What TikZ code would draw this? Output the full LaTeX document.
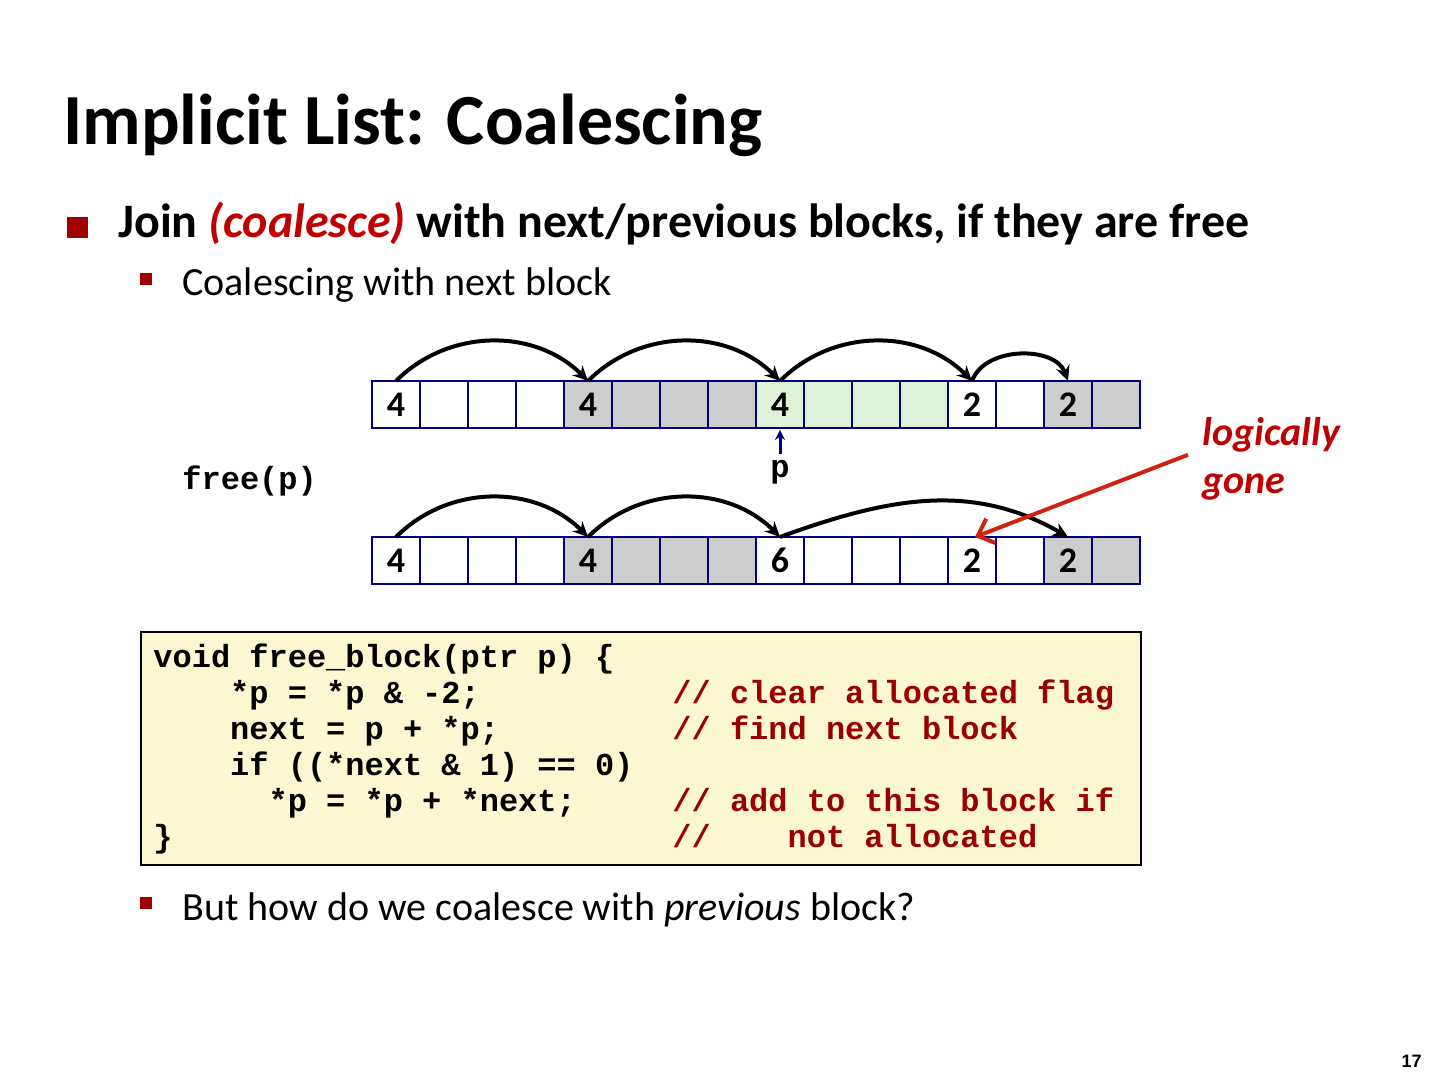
\documentclass[tikz,border=0pt]{standalone}
\usepackage{fontspec}
\setmainfont{Carlito}
\setmonofont{Liberation Mono}
\newfontfamily\pagefont{Liberation Sans}
\usepackage{tikz}
\usetikzlibrary{arrows.meta,positioning}

\definecolor{bulletred}{RGB}{160,0,0}
\definecolor{keyred}{RGB}{192,0,0}
\definecolor{cmtred}{RGB}{153,0,0}
\definecolor{cellnavy}{RGB}{0,0,128}
\definecolor{allocgray}{RGB}{205,205,205}
\definecolor{freegreen}{RGB}{221,242,217}
\definecolor{codeyellow}{RGB}{251,247,208}
\definecolor{goneorange}{RGB}{205,35,15}

\begin{document}
\begin{tikzpicture}[
    x=0.5pt, y=0.5pt, % one unit = one pixel of the slide
    cell/.style={
        draw=cellnavy, line width=0.6pt,
        minimum width=24pt, minimum height=23.5pt,
        inner sep=0pt, outer sep=0pt,
        font=\fontsize{18}{20}\selectfont\bfseries
    },
    hop/.style={-{Stealth[length=7.5pt,width=7pt]}, line width=2pt},
    txt/.style={anchor=base west, inner sep=0pt},
    bullet/.style={fill=bulletred, inner sep=0pt}
]
\useasboundingbox (0,0) rectangle (1440,1080);

% --- titulo e topicos ---
\node[txt, font=\fontsize{36}{40}\selectfont\bfseries] (title) at (63,935) {Implicit List: Coalescing};
\node[bullet, minimum size=10.5pt] (dot1) at (77.5,852) {};
\node[txt, font=\fontsize{24}{28}\selectfont\bfseries] (join) at (118,842)
    {Join \textcolor{keyred}{\itshape (coalesce)} with next/previous blocks, if they are free};
\node[bullet, minimum size=6pt] (dot2) at (146,801) {};
\node[txt, font=\fontsize{20}{24}\selectfont] (next) at (182,784) {Coalescing with next block};

% --- heap antes de free(p) ---
\foreach \f/\t [count=\i from 0] in {white/4,white/,white/,white/,allocgray/4,allocgray/,allocgray/,allocgray/,
    freegreen/4,freegreen/,freegreen/,freegreen/,white/2,white/,allocgray/2,allocgray/}
    \node[cell, fill=\f] (pre\i) at ({396+48*\i},675.5) {\t};

\draw[hop] (pre0.north) to[bend left=45] (pre4.north);
\draw[hop] (pre4.north) to[bend left=45] (pre8.north);
\draw[hop] (pre8.north) to[bend left=45] (pre12.north);
\draw[hop] (pre12.north) to[bend left=70] (pre14.north);

% ponteiro p
\node[anchor=base, font=\ttfamily\bfseries\fontsize{16}{18}\selectfont] (p) at (780,602) {p};
\draw[-{Stealth[length=5pt,width=5pt]}, cellnavy, line width=1.5pt, shorten >=1pt] (p.north) -- (pre8.south);

\node[txt, font=\ttfamily\bfseries\fontsize{16}{18}\selectfont] (free) at (182,590) {free(p)};

% --- heap depois de free(p) ---
\foreach \f/\t [count=\i from 0] in {white/4,white/,white/,white/,allocgray/4,allocgray/,allocgray/,allocgray/,
    white/6,white/,white/,white/,white/2,white/,allocgray/2,allocgray/}
    \node[cell, fill=\f] (post\i) at ({396+48*\i},519.5) {\t};

\draw[hop] (post0.north) to[bend left=45] (post4.north);
\draw[hop] (post4.north) to[bend left=45] (post8.north);
\draw[hop] (post8.north) to[out=20,in=150] (post14.north);

% rotulo "logically gone"
\node[anchor=north west, inner sep=0pt, align=left, text=keyred,
      font=\fontsize{20}{24}\selectfont\bfseries\itshape] (gone) at (1202,663) {logically\\gone};
\draw[goneorange, line width=2pt, -{Straight Barb[length=7pt,width=13pt]}]
    ([shift={(-14,4)}]gone.west) -- ([xshift=1.5pt]post12.north);

% --- codigo ---
\node[draw, line width=1pt, fill=codeyellow, minimum width=500pt, minimum height=116.5pt,
      inner sep=0pt, anchor=north west] (box) at (140,449) {};
\node[txt, font=\ttfamily\bfseries\fontsize{16}{18}\selectfont] (code) at (153,412) {%
\begin{tabular}[t]{@{}p{259.5pt}@{}l@{}}
void free\_block(ptr p) \{ & \\
\phantom{0000}*p = *p \& -2; & \textcolor{cmtred}{// clear allocated flag}\\
\phantom{0000}next = p + *p; & \textcolor{cmtred}{// find next block}\\
\phantom{0000}if ((*next \& 1) == 0) & \\
\phantom{000000}*p = *p + *next; & \textcolor{cmtred}{// add to this block if}\\
\} & \textcolor{cmtred}{//\phantom{0000}not allocated}
\end{tabular}};

% --- ultimo topico ---
\node[bullet, minimum size=6pt] (dot3) at (146,177) {};
\node[txt, font=\fontsize{20}{24}\selectfont] (prev) at (182,159) {But how do we coalesce with \textit{previous} block?};

\node[anchor=base east, inner sep=0pt, font=\pagefont\bfseries\fontsize{9}{10}\selectfont] (page) at (1422,12) {17};

\end{tikzpicture}
\end{document}
